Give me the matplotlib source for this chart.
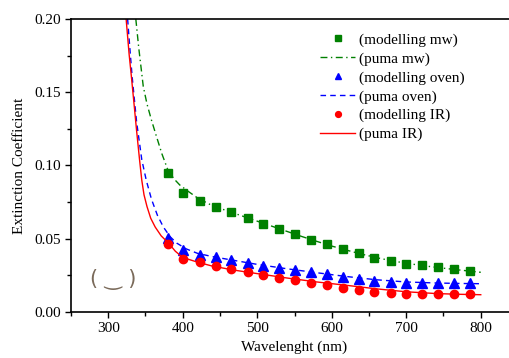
import numpy as np
import matplotlib
matplotlib.use("Agg")
import matplotlib.pyplot as plt
from matplotlib.ticker import MultipleLocator, FormatStrFormatter

plt.rcParams['font.family'] = ['Liberation Serif', 'DejaVu Serif']

# Puntos del modelo (longitud de onda en nm)
lam_pts = [380, 401, 423, 444, 465, 487, 508, 529, 551, 572,
           593, 615, 637, 657, 679, 700, 721, 743, 764, 785]
mod_mw = [0.0949, 0.0812, 0.0760, 0.0719, 0.0681, 0.0642, 0.0603, 0.0567, 0.0532, 0.0494,
          0.0462, 0.0430, 0.0403, 0.0371, 0.0348, 0.0330, 0.0319, 0.0305, 0.0291, 0.0280]
mod_oven = [0.0507, 0.0421, 0.0391, 0.0373, 0.0355, 0.0334, 0.0314, 0.0300, 0.0287, 0.0273,
            0.0259, 0.0241, 0.0223, 0.0214, 0.0205, 0.0200, 0.0200, 0.0200, 0.0200, 0.0200]
mod_ir = [0.0462, 0.0364, 0.0339, 0.0314, 0.0294, 0.0273, 0.0255, 0.0234, 0.0218, 0.0200,
          0.0182, 0.0166, 0.0150, 0.0139, 0.0130, 0.0123, 0.0123, 0.0123, 0.0123, 0.0123]

# Curvas puma
lam_mw = [337, 341, 347, 352, 358, 364, 372, 380, 388, 396, 408, 420, 440, 460, 480, 500, 520,
          540, 560, 580, 600, 620, 640, 660, 680, 700, 720, 740, 760, 780, 800]
puma_mw = [0.200, 0.180, 0.154, 0.142, 0.131, 0.121, 0.108, 0.097, 0.091, 0.0867, 0.0821, 0.0778,
           0.0725, 0.0690, 0.0655, 0.0620, 0.0585, 0.0550, 0.0515, 0.0482, 0.0450, 0.0422,
           0.0395, 0.0371, 0.0350, 0.0333, 0.0318, 0.0305, 0.0293, 0.0282, 0.0271]
lam_oven = [326, 329, 332, 338, 345, 351, 358, 366, 374, 383, 392, 405, 420, 440, 460, 500, 540,
            580, 620, 660, 700, 740, 770, 800]
puma_oven = [0.200, 0.180, 0.161, 0.130, 0.104, 0.090, 0.077, 0.066, 0.058, 0.0514, 0.0470, 0.0430,
             0.0400, 0.0378, 0.0360, 0.0325, 0.0295, 0.0268, 0.0242, 0.0220, 0.0205, 0.0198,
             0.0195, 0.0193]
lam_ir = [324, 328, 331, 335, 338, 342, 345, 348, 352, 357, 363, 371, 381, 390, 400, 420, 440,
          470, 500, 540, 580, 620, 660, 700, 740, 770, 800]
puma_ir = [0.200, 0.176, 0.161, 0.140, 0.124, 0.104, 0.090, 0.080, 0.072, 0.064, 0.058, 0.052,
           0.047, 0.0415, 0.0372, 0.0340, 0.0313, 0.0285, 0.0262, 0.0232, 0.0205, 0.0182,
           0.0158, 0.0138, 0.0126, 0.0121, 0.0118]

fig = plt.figure(figsize=(5.10, 3.58), dpi=100)
ax = fig.add_axes([71/510, 46/358, 447/510, 293/358])

ax.plot(lam_pts, mod_mw, 's', color='#008000', ms=5.5, label='(modelling mw)')
ax.plot(lam_mw, puma_mw, '-.', color='#008000', lw=1, dashes=(5, 2.5, 1, 2.5), label='(puma mw)')
ax.plot(lam_pts, mod_oven, '^', color='#0000ff', ms=6.5, label='(modelling oven)')
ax.plot(lam_oven, puma_oven, '--', color='#0000ff', lw=1, dashes=(4, 3), label='(puma oven)')
ax.plot(lam_pts, mod_ir, 'o', color='#ff0000', ms=6, label='(modelling IR)')
ax.plot(lam_ir, puma_ir, '-', color='#ff0000', lw=1, label='(puma IR)')

ax.set_xlim(250, 850)
ax.set_ylim(0, 0.20)
ax.set_xticks([300, 400, 500, 600, 700, 800])
ax.xaxis.set_minor_locator(MultipleLocator(50))
ax.set_yticks([0, 0.05, 0.10, 0.15, 0.20])
ax.yaxis.set_minor_locator(MultipleLocator(0.025))
ax.yaxis.set_major_formatter(FormatStrFormatter('%.2f'))
ax.tick_params(which='major', direction='out', length=4, width=1, labelsize=11)
ax.tick_params(which='minor', direction='out', length=3, width=1)
for s in ax.spines.values():
    s.set_linewidth(1.2)

ax.set_xlabel('Wavelenght (nm)', fontsize=11, labelpad=4)
ax.set_ylabel('Extinction Coefficient', fontsize=11, labelpad=6)

ax.legend(loc='upper left', bbox_to_anchor=(320/510, 1 - 33/358), bbox_transform=fig.transFigure,
          frameon=False, fontsize=11, handlelength=2.3, handletextpad=0.25,
          labelspacing=0.33, markerscale=0.7, borderpad=0, borderaxespad=0)

ax.text(307, 0.0225, '( \u203f )', family=['DejaVu Sans'], fontsize=15, color='#7a6a5a',
        ha='center', va='center')

fig.savefig('out.png', dpi=100)
